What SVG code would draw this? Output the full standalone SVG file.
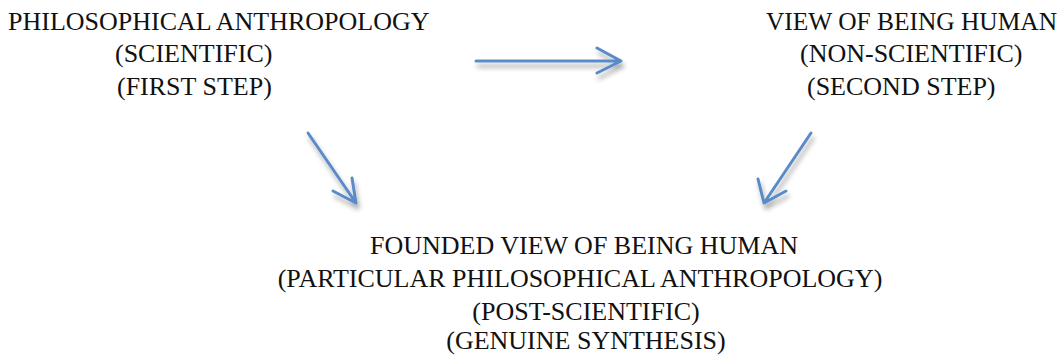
<svg xmlns="http://www.w3.org/2000/svg" width="1062" height="355" viewBox="0 0 1062 355">
<style>
text{font-family:"Liberation Serif","Times New Roman",serif;font-size:26px;fill:#111}
.c{text-anchor:middle}
.arrow{fill:none;stroke:#5A8BC8;stroke-width:3;stroke-linecap:round;stroke-linejoin:round;filter:url(#sh)}
</style>
<defs>
<filter id="sh" x="-30%" y="-30%" width="160%" height="180%">
<feGaussianBlur in="SourceAlpha" stdDeviation="2.5" result="b"/>
<feOffset in="b" dx="2" dy="5" result="o"/>
<feComponentTransfer in="o" result="s"><feFuncA type="linear" slope="0.35"/></feComponentTransfer>
<feMerge><feMergeNode in="s"/><feMergeNode in="SourceGraphic"/></feMerge>
</filter>
</defs>
<rect width="1062" height="355" fill="#fff"/>
<g id="node-philosophical">
<text x="8" y="30">PHILOSOPHICAL ANTHROPOLOGY</text>
<text x="115" y="62">(SCIENTIFIC)</text>
<text x="117" y="95">(FIRST STEP)</text>
</g>
<g id="node-view">
<text x="766" y="30" textLength="291" lengthAdjust="spacingAndGlyphs">VIEW OF BEING HUMAN</text>
<text x="800" y="62">(NON-SCIENTIFIC)</text>
<text x="807" y="95">(SECOND STEP)</text>
</g>
<g id="node-founded">
<text class="c" x="584" y="254">FOUNDED VIEW OF BEING HUMAN</text>
<text class="c" x="580" y="287">(PARTICULAR PHILOSOPHICAL ANTHROPOLOGY)</text>
<text class="c" x="586" y="320">(POST-SCIENTIFIC)</text>
<text class="c" x="586" y="349">(GENUINE SYNTHESIS)</text>
</g>
<g id="connectors">
<path class="arrow" d="M476 61 L621 61 M597 48 L621 61 L597 73"/>
<path class="arrow" d="M308 133 L356 203 M352 178 L356 203 L333 191"/>
<path class="arrow" d="M811 133 L764 203 M758 179 L764 203 L786 191"/>
</g>
</svg>
